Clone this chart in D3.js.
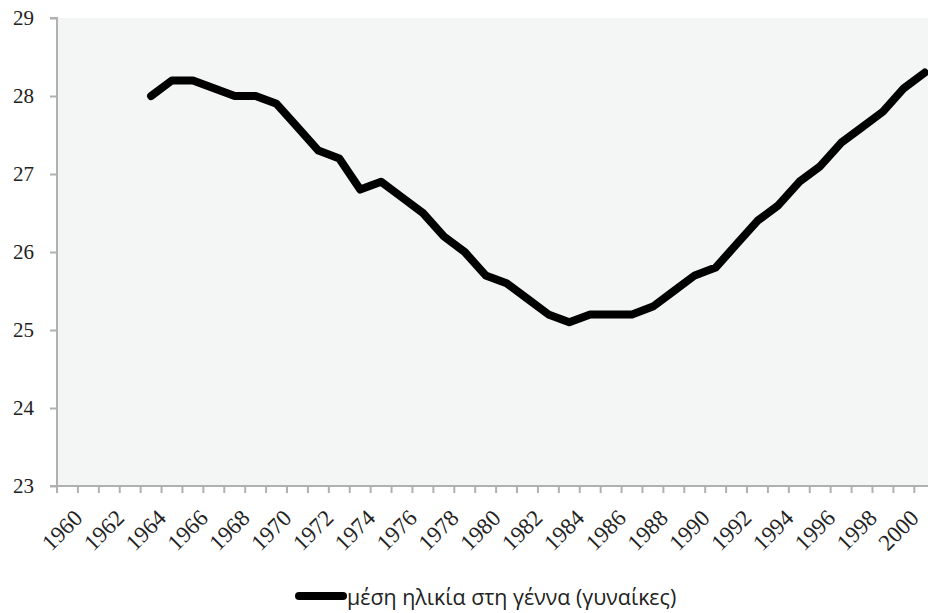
<!DOCTYPE html>
<html>
<head>
<meta charset="utf-8">
<script src="https://cdn.jsdelivr.net/npm/d3@7"></script>
<style>
  html, body { margin: 0; padding: 0; background: #fff; overflow: hidden; }
  svg { display: block; }
</style>
</head>
<body>
<svg id="chart" width="928" height="613"></svg>
<script>
const years = d3.range(1960, 2002);
const dataYears = d3.range(1964, 2002);
const ageValues = [28.0, 28.2, 28.2, 28.1, 28.0, 28.0, 27.9, 27.6, 27.3, 27.2,
                   26.8, 26.9, 26.7, 26.5, 26.2, 26.0, 25.7, 25.6, 25.4, 25.2,
                   25.1, 25.2, 25.2, 25.2, 25.3, 25.5, 25.7, 25.8, 26.1, 26.4,
                   26.6, 26.9, 27.1, 27.4, 27.6, 27.8, 28.1, 28.3];
const yTicks = [23, 24, 25, 26, 27, 28, 29];
const xTickLabels = d3.range(1960, 2001, 2);
const seriesName = "μέση ηλικία στη γέννα (γυναίκες)";

const svg = d3.select("#chart");
const mLeft = 57, mTop = 18, mBottom = 486;
const step = 20.91;
const mRight = mLeft + step * years.length;

const x = d3.scaleBand().domain(years).range([mLeft, mRight]).paddingInner(0).paddingOuter(0);
const y = d3.scaleLinear().domain([23, 29]).range([mBottom, mTop]);

svg.append("rect")
  .attr("x", mLeft).attr("y", mTop)
  .attr("width", mRight - mLeft).attr("height", mBottom - mTop)
  .attr("fill", "#f4f5f5");

// Y axis
const yAxis = svg.append("g")
  .attr("transform", `translate(${mLeft},0)`)
  .call(d3.axisLeft(y).tickValues(yTicks).tickSize(7).tickPadding(16).tickFormat(d3.format("d")));
yAxis.select(".domain").attr("stroke", "#b0b0b0").attr("stroke-width", 2).attr("d", `M-7,${mTop}H0V${mBottom}`);
yAxis.selectAll(".tick line").attr("stroke", "#b0b0b0").attr("stroke-width", 2);
yAxis.selectAll(".tick text")
  .attr("font-family", "'Liberation Serif', serif")
  .attr("font-size", 21).attr("fill", "#222");

// X axis with ticks at category boundaries
const xg = svg.append("g");
xg.append("line")
  .attr("x1", mLeft - 7).attr("x2", mRight)
  .attr("y1", mBottom).attr("y2", mBottom)
  .attr("stroke", "#b0b0b0").attr("stroke-width", 2);
xg.selectAll("line.tk")
  .data(d3.range(0, years.length + 1))
  .join("line")
  .attr("class", "tk")
  .attr("x1", i => mLeft + i * x.bandwidth())
  .attr("x2", i => mLeft + i * x.bandwidth())
  .attr("y1", mBottom).attr("y2", mBottom + 7)
  .attr("stroke", "#b0b0b0").attr("stroke-width", 2);
xg.selectAll("text")
  .data(xTickLabels)
  .join("text")
  .attr("transform", d => `translate(${x(d) + x.bandwidth() / 2 + 5},${mBottom + 22}) rotate(-45)`)
  .attr("text-anchor", "end")
  .attr("dy", "0.7em")
  .attr("font-family", "'Liberation Serif', serif")
  .attr("font-size", 23).attr("fill", "#222")
  .text(d => d);

// Line
const line = d3.line()
  .x((d, i) => x(dataYears[i]) + x.bandwidth() / 2)
  .y(d => y(d));
svg.append("path")
  .datum(ageValues)
  .attr("d", line)
  .attr("fill", "none")
  .attr("stroke", "#000")
  .attr("stroke-width", 8)
  .attr("stroke-linejoin", "round")
  .attr("stroke-linecap", "round");

// Legend
const lg = svg.append("g");
lg.append("line")
  .attr("x1", 299).attr("x2", 343).attr("y1", 596).attr("y2", 596)
  .attr("stroke", "#000").attr("stroke-width", 8).attr("stroke-linecap", "round");
lg.append("text")
  .attr("x", 347).attr("y", 605)
  .attr("font-family", "'Open Sans', sans-serif")
  .attr("font-size", 21.4).attr("fill", "#222")
  .text(seriesName);
</script>
</body>
</html>
